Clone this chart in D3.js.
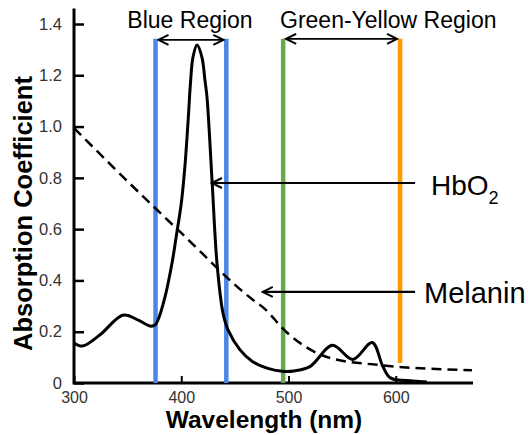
<!DOCTYPE html>
<html>
<head>
<meta charset="utf-8">
<script src="https://cdn.jsdelivr.net/npm/d3@7"></script>
<style>
  body { margin: 0; background: #fff; }
  text { font-family: "Liberation Sans", Arial, Helvetica, sans-serif; }
</style>
</head>
<body>
<div id="chart"></div>
<script>
// HbO2 absorption curve (wavelength nm, coefficient)
const hbWave = [300, 308, 324, 346, 360, 371, 375.5, 378.3, 384.8, 391.4, 396, 400, 403.5, 406.5, 408.6, 410.9, 414.7, 419.3, 422.1, 424, 428.7, 433.3, 438.9, 443.6, 454.8, 466, 480, 494, 505, 520, 541, 560, 578, 588, 595, 616, 629];
const hbValue = [0.156, 0.144, 0.187, 0.265, 0.245, 0.222, 0.226, 0.246, 0.335, 0.468, 0.59, 0.70, 0.85, 1.03, 1.17, 1.27, 1.318, 1.27, 1.18, 1.115, 0.79, 0.468, 0.273, 0.207, 0.129, 0.085, 0.058, 0.046, 0.047, 0.064, 0.147, 0.092, 0.158, 0.064, 0.02, 0.008, 0.004];

// Melanin absorption curve (dashed)
const melWave = [300, 368, 399, 467, 476, 499, 539, 585, 671];
const melValue = [0.994, 0.713, 0.589, 0.324, 0.296, 0.195, 0.097, 0.07, 0.05];

// Vertical band markers
const bandWave = [376, 442, 495, 604];
const bandBottom = [0, 0, 0, 0.078];
const bandColor = ["#4a86e8", "#4a86e8", "#6aa84f", "#ff9900"];
const bandTop = 1.342;

// Region labels
const regionNames = ["Blue Region", "Green-Yellow Region"];
const regionFrom = [376, 495];
const regionTo = [442, 604];

// Curve labels with pointer arrows
const curveNames = ["HbO", "Melanin"];
const curveArrowY = [0.78, 0.355];
const curveArrowTo = [428.6, 476];
const curveArrowFrom = 618;

const xTicks = [300, 400, 500, 600];
const yTicks = [0, 0.2, 0.4, 0.6, 0.8, 1.0, 1.2, 1.4];

const width = 528, height = 435;

const svg = d3.select("#chart").append("svg")
    .attr("width", width)
    .attr("height", height);

const x = d3.scaleLinear().domain([300, 672]).range([74, 473]);
const y = d3.scaleLinear().domain([0, 1.4]).range([383, 24]);

const defs = svg.append("defs");
defs.append("marker")
    .attr("id", "head")
    .attr("viewBox", "-12 -6 14 12")
    .attr("refX", 0)
    .attr("refY", 0)
    .attr("markerWidth", 14)
    .attr("markerHeight", 12)
    .attr("markerUnits", "userSpaceOnUse")
    .attr("orient", "auto-start-reverse")
    .append("path")
    .attr("d", "M-10,-5 L0,0 L-10,5")
    .attr("fill", "none")
    .attr("stroke", "#000")
    .attr("stroke-width", 2);

// Axes
const yAxis = d3.axisLeft(y)
    .tickValues(yTicks)
    .tickSize(-10)
    .tickPadding(12)
    .tickFormat(d => d === 0 ? "0" : d.toFixed(1));

const xAxis = d3.axisBottom(x)
    .tickValues(xTicks)
    .tickSize(-7)
    .tickPadding(9)
    .tickFormat(d3.format("d"));

const gy = svg.append("g")
    .attr("transform", `translate(${x(300)},0)`)
    .call(yAxis);
gy.select(".domain").remove();
gy.selectAll(".tick line").attr("stroke-width", 2.5);
gy.selectAll(".tick text").attr("font-size", 16.5);

const gx = svg.append("g")
    .attr("transform", `translate(0,${y(0)})`)
    .call(xAxis);
gx.select(".domain").remove();
gx.selectAll(".tick line").attr("stroke-width", 2);
gx.selectAll(".tick text").attr("font-size", 16);

svg.selectAll(".tick text")
    .attr("fill", "#333")
    .style("font-family", "'Liberation Sans', Arial, sans-serif");

// axis lines
svg.append("path")
    .attr("d", `M${x(300)},${y(1.46)} V${y(0)} H${x(672)}`)
    .attr("fill", "none")
    .attr("stroke", "#000")
    .attr("stroke-width", 3);

// Axis titles
svg.append("text")
    .attr("transform", `translate(32,${(y(0) + 40) / 2 + 2}) rotate(-90)`)
    .attr("text-anchor", "middle")
    .attr("font-size", 25.5)
    .attr("font-weight", "bold")
    .text("Absorption Coefficient");

svg.append("text")
    .attr("x", 264)
    .attr("y", 428)
    .attr("text-anchor", "middle")
    .attr("font-size", 24.5)
    .attr("font-weight", "bold")
    .text("Wavelength (nm)");

// Band lines
svg.append("g").selectAll("line")
    .data(bandWave)
    .join("line")
    .attr("x1", d => x(d))
    .attr("x2", d => x(d))
    .attr("y1", y(bandTop))
    .attr("y2", (d, i) => y(bandBottom[i]))
    .attr("stroke", (d, i) => bandColor[i])
    .attr("stroke-width", 4.5);

// Curves
const hbData = hbWave.map((w, i) => [w, hbValue[i]]);
const melData = melWave.map((w, i) => [w, melValue[i]]);

svg.append("path")
    .datum(melData)
    .attr("fill", "none")
    .attr("stroke", "#000")
    .attr("stroke-width", 2.5)
    .attr("stroke-dasharray", "10,6")
    .attr("d", d3.line().x(d => x(d[0])).y(d => y(d[1])).curve(d3.curveMonotoneX));

svg.append("path")
    .datum(hbData)
    .attr("fill", "none")
    .attr("stroke", "#000")
    .attr("stroke-width", 3)
    .attr("d", d3.line().x(d => x(d[0])).y(d => y(d[1])).curve(d3.curveCatmullRom.alpha(0.5)));

// Region arrows and labels
const regionTextX = [190, 280];
const regionAnchor = ["middle", "start"];
regionNames.forEach((name, i) => {
    const ay = y(bandTop) + (i === 0 ? 1 : 0);
    svg.append("line")
        .attr("x1", x(regionFrom[i]) + 3)
        .attr("x2", x(regionTo[i]) - 3)
        .attr("y1", ay)
        .attr("y2", ay)
        .attr("stroke", "#000")
        .attr("stroke-width", 1.8)
        .attr("marker-start", "url(#head)")
        .attr("marker-end", "url(#head)");
    svg.append("text")
        .attr("x", regionTextX[i])
        .attr("y", 28)
        .attr("text-anchor", regionAnchor[i])
        .attr("font-size", 23)
        .text(name);
});

// Curve pointer arrows
curveNames.forEach((name, i) => {
    svg.append("line")
        .attr("x1", x(curveArrowFrom))
        .attr("x2", x(curveArrowTo[i]))
        .attr("y1", y(curveArrowY[i]))
        .attr("y2", y(curveArrowY[i]))
        .attr("stroke", "#000")
        .attr("stroke-width", 2.2)
        .attr("marker-end", "url(#head)");
});

const hbLabel = svg.append("text")
    .attr("x", 431)
    .attr("y", y(curveArrowY[0]) + 12)
    .attr("font-size", 28)
    .text(curveNames[0]);
hbLabel.append("tspan")
    .attr("dy", 9)
    .attr("font-size", 18)
    .text("2");

svg.append("text")
    .attr("x", 424)
    .attr("y", y(curveArrowY[1]) + 11)
    .attr("font-size", 29)
    .text(curveNames[1]);
</script>
</body>
</html>
